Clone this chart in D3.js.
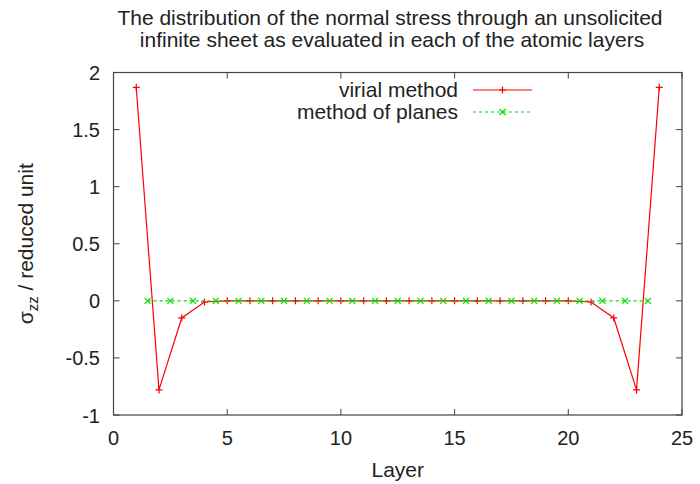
<!DOCTYPE html>
<html>
<head>
<meta charset="utf-8">
<script src="https://cdn.jsdelivr.net/npm/d3@7"></script>
<style>
  body { margin: 0; background: #fff; }
  text { font-family: "Liberation Sans", Arial, sans-serif; fill: #222; }
</style>
</head>
<body>
<div id="chart"></div>
<script>
// virial method: one value per atomic layer
var virialLayers = d3.range(1, 25);
var virialValues = [1.87, -0.78, -0.15, -0.01, 0, 0, 0, 0, 0, 0, 0, 0,
                    0, 0, 0, 0, 0, 0, 0, 0, -0.01, -0.15, -0.78, 1.87];
// method of planes: evaluated between layers
var planesLayers = [1.5, 2.5, 3.5, 4.5, 5.5, 6.5, 7.5, 8.5, 9.5, 10.5, 11.5, 12.5,
                    13.5, 14.5, 15.5, 16.5, 17.5, 18.5, 19.5, 20.5, 21.5, 22.5, 23.5];
var planesValues = [0, 0, 0, 0, 0, 0, 0, 0, 0, 0, 0, 0,
                    0, 0, 0, 0, 0, 0, 0, 0, 0, 0, 0];
var xTicks = [0, 5, 10, 15, 20, 25];
var yTicks = [-1, -0.5, 0, 0.5, 1, 1.5, 2];
var seriesNames = ["virial method", "method of planes"];

var width = 700, height = 484,
    margin = {left: 113.5, right: 18, top: 72.5, bottom: 69};

var x = d3.scaleLinear().domain([0, 25]).range([margin.left, width - margin.right]),
    y = d3.scaleLinear().domain([-1, 2]).range([height - margin.bottom, margin.top]);

var svg = d3.select("#chart").append("svg")
    .attr("width", width)
    .attr("height", height);

// title
var title = svg.append("text")
    .attr("text-anchor", "middle")
    .style("font-size", "21px");
title.append("tspan").attr("x", 390).attr("y", 25)
    .text("The distribution of the normal stress through an unsolicited");
title.append("tspan").attr("x", 392).attr("y", 47)
    .text("infinite sheet as evaluated in each of the atomic layers");

// ticks inward, mirrored on all sides
var tk = 6;
var axes = svg.append("g").attr("stroke", "#444").attr("stroke-width", 1);
xTicks.forEach(function(t) {
    axes.append("line").attr("x1", x(t)).attr("x2", x(t))
        .attr("y1", y(-1)).attr("y2", y(-1) - tk);
    axes.append("line").attr("x1", x(t)).attr("x2", x(t))
        .attr("y1", y(2)).attr("y2", y(2) + tk);
});
yTicks.forEach(function(t) {
    axes.append("line").attr("x1", x(0)).attr("x2", x(0) + tk)
        .attr("y1", y(t)).attr("y2", y(t));
    axes.append("line").attr("x1", x(25)).attr("x2", x(25) - tk)
        .attr("y1", y(t)).attr("y2", y(t));
});
svg.append("rect")
    .attr("x", x(0)).attr("y", y(2))
    .attr("width", x(25) - x(0)).attr("height", y(-1) - y(2))
    .attr("fill", "none").attr("stroke", "#444").attr("stroke-width", 1.2);

svg.selectAll(".xlab").data(xTicks).enter().append("text")
    .attr("x", d => x(d)).attr("y", y(-1) + 30)
    .attr("text-anchor", "middle")
    .style("font-size", "20px")
    .text(d => d);
svg.selectAll(".ylab").data(yTicks).enter().append("text")
    .attr("x", x(0) - 13.5).attr("y", d => y(d) + 7.5)
    .attr("text-anchor", "end")
    .style("font-size", "20px")
    .text(d => d);

svg.append("text")
    .attr("x", (x(0) + x(25)) / 2).attr("y", 477)
    .attr("text-anchor", "middle")
    .style("font-size", "21px")
    .text("Layer");

var yl = svg.append("text")
    .attr("transform", "translate(33," + y(0.5) + ") rotate(-90)")
    .attr("text-anchor", "middle")
    .style("font-size", "21px");
yl.append("tspan").text("σ");
yl.append("tspan").attr("dy", 5).style("font-size", "15px").text("zz");
yl.append("tspan").attr("dy", -5).text(" / reduced unit");

var line = d3.line().x(d => x(d[0])).y(d => y(d[1]));
var virial = virialLayers.map((l, i) => [l, virialValues[i]]);
var planes = planesLayers.map((l, i) => [l, planesValues[i]]);

function plus(g, px, py, c) {
    g.append("path").attr("d", `M${px - 3.5},${py}H${px + 3.5}M${px},${py - 3.5}V${py + 3.5}`)
        .attr("stroke", c).attr("stroke-width", 1.2);
}
function cross(g, px, py, c) {
    g.append("path").attr("d", `M${px - 3},${py - 3}L${px + 3},${py + 3}M${px - 3},${py + 3}L${px + 3},${py - 3}`)
        .attr("stroke", c).attr("stroke-width", 1.2);
}

var plot = svg.append("g");
plot.append("path").datum(virial).attr("d", line)
    .attr("fill", "none").attr("stroke", "#ff0000").attr("stroke-width", 1.2);
virial.forEach(d => plus(plot, x(d[0]), y(d[1]), "#ff0000"));
plot.append("path").datum(planes).attr("d", line)
    .attr("fill", "none").attr("stroke", "#00dd00").attr("stroke-width", 1.2)
    .attr("stroke-dasharray", "3,3");
planes.forEach(d => cross(plot, x(d[0]), y(d[1]), "#00dd00"));

// key
var key = svg.append("g");
var keyColors = ["#ff0000", "#00dd00"];
seriesNames.forEach(function(n, i) {
    var ky = 90 + i * 22;
    key.append("text").attr("x", 458).attr("y", ky + 6.5)
        .attr("text-anchor", "end").style("font-size", "21px").text(n);
    key.append("line").attr("x1", 473).attr("x2", 532).attr("y1", ky).attr("y2", ky)
        .attr("stroke", keyColors[i]).attr("stroke-width", 1.2)
        .attr("stroke-dasharray", i ? "3,3" : null);
    if (i) cross(key, 502.5, ky, keyColors[i]); else plus(key, 502.5, ky, keyColors[i]);
});
</script>
</body>
</html>
